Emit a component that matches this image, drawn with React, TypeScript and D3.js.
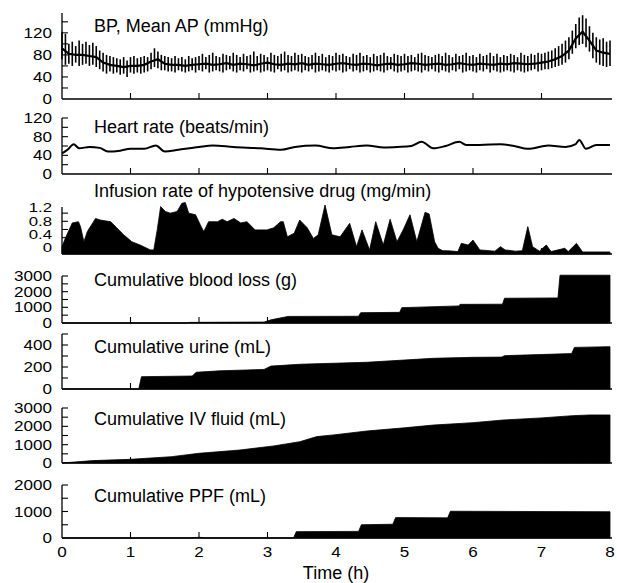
import React from 'react';
import * as d3 from 'd3';

// BP strokes every 0.05 h, mean every 0.1 h
const bpStep = 0.05;
const bpSys = [
  122, 118, 100, 104, 96, 106, 100, 104, 98, 102, 96, 88, 84, 80, 78, 76, 74, 72, 76, 70,
  76, 78, 74, 76, 78, 76, 84, 92, 86, 80, 78, 76, 74, 78, 74, 76, 72, 78, 74, 76,
  78, 82, 76, 80, 84, 78, 76, 82, 80, 78, 84, 80, 76, 82, 78, 80, 86, 78, 82, 80,
  76, 84, 80, 78, 82, 86, 80, 78, 84, 80, 82, 78, 76, 80, 84, 78, 82, 76, 80, 78,
  84, 80, 82, 78, 76, 82, 80, 84, 78, 80, 76, 82, 78, 80, 84, 78, 76, 82, 80, 78,
  82, 78, 80, 76, 82, 84, 80, 78, 76, 80, 82, 78, 84, 80, 76, 82, 78, 80, 84, 78,
  80, 76, 82, 78, 80, 84, 78, 82, 76, 80, 78, 82, 80, 76, 84, 80, 78, 82, 80, 84,
  82, 84, 86, 88, 92, 96, 100, 106, 112, 124, 136, 148, 152, 146, 132, 120, 112, 108, 110, 104,
  106,
];
const bpDia = [
  72, 62, 64, 60, 66, 60, 62, 64, 60, 62, 58, 54, 50, 46, 50, 46, 48, 44, 46, 40,
  48, 46, 48, 46, 48, 50, 54, 58, 56, 52, 52, 50, 50, 48, 52, 50, 48, 50, 52, 48,
  52, 50, 54, 48, 50, 52, 50, 48, 52, 54, 50, 48, 52, 50, 54, 48, 50, 52, 48, 50,
  52, 50, 48, 54, 50, 52, 48, 50, 52, 50, 48, 52, 50, 54, 48, 50, 52, 50, 48, 52,
  50, 52, 48, 50, 54, 50, 52, 48, 50, 52, 48, 50, 52, 50, 48, 52, 54, 50, 48, 50,
  52, 48, 50, 52, 50, 48, 52, 50, 54, 50, 48, 52, 50, 48, 52, 50, 54, 48, 50, 52,
  50, 48, 52, 50, 54, 48, 52, 50, 48, 50, 52, 50, 48, 52, 50, 48, 50, 52, 54, 50,
  52, 54, 54, 56, 58, 60, 62, 66, 72, 82, 92, 98, 100, 94, 86, 74, 66, 62, 60, 58,
  60,
];
const bpMeanStep = 0.1;
const bpMean = [
  92, 82, 80, 80, 78, 76, 66, 62, 60, 58, 60, 60, 62, 68, 72, 64, 62, 62, 60, 62,
  63, 64, 62, 63, 65, 62, 64, 63, 61, 64, 66, 63, 62, 64, 63, 65, 62, 64, 63, 62,
  64, 65, 63, 62, 64, 63, 61, 63, 64, 62, 63, 65, 64, 62, 63, 64, 62, 63, 65, 63,
  62, 64, 63, 62, 64, 63, 65, 64, 63, 64, 66, 68, 72, 78, 88, 110, 122, 106, 88, 84,
  82,
];

const hrTime = [0, 0.08, 0.17, 0.25, 0.4, 0.55, 0.67, 0.85, 1.0, 1.2, 1.37, 1.5, 1.7, 2.0, 2.2, 2.5, 2.9, 3.2, 3.4, 3.7, 3.96, 4.2, 4.45, 4.7, 4.9, 5.1, 5.25, 5.42, 5.6, 5.8, 5.9, 6.1, 6.4, 6.6, 6.8, 7.1, 7.35, 7.5, 7.55, 7.65, 7.8, 8.0];
const hrRate = [44, 52, 64, 55, 58, 56, 48, 50, 54, 54, 61, 48, 52, 58, 61, 58, 55, 52, 58, 61, 55, 58, 61, 57, 58, 60, 69, 55, 60, 69, 62, 62, 64, 60, 54, 61, 58, 64, 73, 54, 62, 62];

const infTime = [
  0, 0.05, 0.15, 0.24, 0.27, 0.32, 0.37, 0.49, 0.56, 0.71, 0.8, 0.9, 1.02, 1.14, 1.29, 1.34, 1.39, 1.44, 1.51, 1.58,
  1.68, 1.75, 1.8, 1.85, 1.95, 2.02, 2.07, 2.14, 2.27, 2.34, 2.41, 2.51, 2.61, 2.7, 2.82, 2.99, 3.09, 3.19, 3.23, 3.29,
  3.39, 3.47, 3.58, 3.67, 3.74, 3.84, 3.94, 4.06, 4.2, 4.3, 4.38, 4.49, 4.58, 4.69, 4.79, 4.89, 4.98, 5.08, 5.18, 5.3,
  5.36, 5.44, 5.49, 5.56, 5.63, 5.78, 5.83, 5.93, 6.0, 6.1, 6.32, 6.4, 6.47, 6.62, 6.72, 6.8, 6.87, 6.97, 7.07, 7.14,
  7.34, 7.39, 7.51, 7.6, 8.0,
];
const infRate = [
  0.18, 0.39, 0.76, 0.79, 0.67, 0.3, 0.55, 0.87, 0.83, 0.79, 0.64, 0.47, 0.3, 0.22, 0.1, 0.1, 0.59, 1.16, 1.04, 1.0,
  1.04, 1.24, 1.26, 1.0, 0.96, 0.71, 0.55, 0.79, 0.79, 0.85, 0.79, 0.87, 0.76, 0.79, 0.59, 0.59, 0.64, 0.79, 0.79, 0.42,
  0.51, 0.83, 0.64, 0.38, 0.47, 1.2, 0.47, 0.42, 0.75, 0.18, 0.59, 0.1, 0.79, 0.22, 0.85, 0.3, 0.59, 0.96, 0.3, 1.02,
  0.98, 0.3, 0.14, 0.08, 0.08, 0.06, 0.26, 0.22, 0.34, 0.1, 0.07, 0.18, 0.1, 0.07, 0.08, 0.67, 0.18, 0.07, 0.22, 0.06,
  0.14, 0.06, 0.26, 0.05, 0.05,
];

const bloodTime = [0, 1.82, 1.88, 2.95, 3.05, 3.3, 4.33, 4.36, 4.93, 4.96, 5.8, 5.81, 6.43, 6.46, 7.24, 7.27, 8.0];
const bloodLoss = [0, 0, 40, 60, 200, 420, 430, 660, 680, 980, 1090, 1190, 1200, 1580, 1600, 3050, 3050];

const urineTime = [0, 1.12, 1.16, 1.9, 1.96, 2.3, 2.95, 3.05, 3.47, 4.45, 5.42, 6.0, 6.42, 6.46, 7.44, 7.48, 8.0];
const urineVol = [0, 0, 112, 118, 152, 165, 178, 208, 225, 243, 279, 288, 290, 303, 322, 378, 385];

const ivTime = [0, 0.45, 1.0, 1.6, 2.0, 2.6, 3.09, 3.47, 3.72, 3.96, 4.45, 5.0, 5.42, 6.0, 6.44, 7.0, 7.45, 7.7, 8.0];
const ivVol = [0, 130, 200, 345, 530, 710, 930, 1160, 1440, 1530, 1745, 1920, 2070, 2200, 2345, 2460, 2580, 2620, 2620];

const ppfTime = [0, 1.9, 2.0, 2.1, 3.38, 3.42, 4.33, 4.37, 4.83, 4.87, 5.63, 5.67, 8.0];
const ppfVol = [0, 0, 30, 0, 0, 240, 250, 500, 520, 770, 760, 1010, 990];

const hours = [0, 1, 2, 3, 4, 5, 6, 7, 8];

const FONT = 'Liberation Sans, Arial, Helvetica, sans-serif';

// panel layout: bottom/top pixel rows, axis top value, tick step, labelled values
const panels = [
  { key: 'bp', title: 'BP, Mean AP (mmHg)', titleY: 32, bottom: 99, top: 13, max: 156, step: 20, labels: [0, 40, 80, 120] },
  { key: 'hr', title: 'Heart rate (beats/min)', titleY: 133, bottom: 174, top: 118, max: 120, step: 20, labels: [0, 40, 80, 120] },
  { key: 'inf', title: 'Infusion rate of hypotensive drug (mg/min)', titleY: 197, bottom: 254, top: 207, max: 1.15, step: 0.2, labels: [0, 0.4, 0.8, 1.2], labelRange: [248, 208], labelSize: 12 },
  { key: 'blood', title: 'Cumulative blood loss (g)', titleY: 286, bottom: 323, top: 276, max: 3000, step: 500, labels: [0, 1000, 2000, 3000] },
  { key: 'urine', title: 'Cumulative urine (mL)', titleY: 353, bottom: 389, top: 334, max: 500, step: 100, labels: [0, 200, 400] },
  { key: 'iv', title: 'Cumulative IV fluid (mL)', titleY: 425, bottom: 463, top: 408, max: 3000, step: 500, labels: [0, 1000, 2000, 3000] },
  { key: 'ppf', title: 'Cumulative PPF (mL)', titleY: 502, bottom: 538, top: 485, max: 2000, step: 500, labels: [0, 1000, 2000] },
];

const x = d3.scaleLinear().domain([0, 8]).range([62, 610]);

const fillSeries: Record<string, [number[], number[]]> = {
  inf: [infTime, infRate],
  blood: [bloodTime, bloodLoss],
  urine: [urineTime, urineVol],
  iv: [ivTime, ivVol],
  ppf: [ppfTime, ppfVol],
};

function StretchText({ x: tx, y: ty, size = 14, sx = 1.22, children }: { x: number; y: number; size?: number; sx?: number; children: React.ReactNode }) {
  return (
    <text
      transform={`translate(${tx},${ty}) scale(${sx},1)`}
      textAnchor="end"
      dy="0.36em"
      fontSize={size}
      fontFamily={FONT}
    >
      {children}
    </text>
  );
}

function Panel({ p }: { p: (typeof panels)[number] }) {
  const y = d3.scaleLinear().domain([0, p.max]).range([p.bottom, p.top]);
  const labelY = p.labelRange
    ? d3.scaleLinear().domain([0, 1.2]).range(p.labelRange)
    : y;
  const ticks = d3.range(p.step, p.max + 1e-9, p.step);

  let marks: React.ReactNode = null;
  if (p.key === 'bp') {
    const mean = d3
      .line<number>()
      .x((_, i) => x(i * bpMeanStep))
      .y((d) => y(d))
      .curve(d3.curveLinear);
    marks = (
      <g>
        {bpSys.map((s, i) => (
          <line key={i} x1={x(i * bpStep)} x2={x(i * bpStep)} y1={y(s)} y2={y(bpDia[i])} stroke="#000" strokeWidth={1.6} />
        ))}
        <path d={mean(bpMean) ?? ''} fill="none" stroke="#000" strokeWidth={2.2} />
      </g>
    );
  } else if (p.key === 'hr') {
    const line = d3
      .line<number>()
      .x((_, i) => x(hrTime[i]))
      .y((d) => y(d))
      .curve(d3.curveMonotoneX);
    marks = <path d={line(hrRate) ?? ''} fill="none" stroke="#000" strokeWidth={2} />;
  } else {
    const [ts, vs] = fillSeries[p.key];
    const area = d3
      .area<number>()
      .x((_, i) => x(ts[i]))
      .y0(y(0))
      .y1((d) => y(d));
    marks = <path d={area(vs) ?? ''} fill="#000" stroke="#000" strokeWidth={0.8} />;
  }

  return (
    <g>
      {/* y axis, ticks pointing inward */}
      <line x1={x(0)} x2={x(0)} y1={y(0)} y2={p.top} stroke="#000" strokeWidth={1.3} />
      {ticks.map((t) => (
        <line key={t} x1={x(0)} x2={x(0) + 6} y1={y(t)} y2={y(t)} stroke="#000" strokeWidth={1.1} />
      ))}
      {p.labels.map((v) => (
        <StretchText key={v} x={52} y={labelY(v)} size={p.labelSize ?? 14} sx={p.labelSize ? 1.4 : 1.22}>
          {v}
        </StretchText>
      ))}
      {/* baseline with hour ticks */}
      <line x1={x(0)} x2={x(8) + 2} y1={y(0)} y2={y(0)} stroke="#000" strokeWidth={1.4} />
      {hours.slice(1, 8).map((h) => (
        <line key={h} x1={x(h)} x2={x(h)} y1={y(0)} y2={y(0) - 6} stroke="#000" strokeWidth={1.1} />
      ))}
      {marks}
      <text x={94} y={p.titleY} fontSize={18} fontFamily={FONT}>
        {p.title}
      </text>
    </g>
  );
}

export default function App() {
  return (
    <svg width={617} height={583} style={{ display: 'block', position: 'absolute', left: 0, top: 0, background: '#fff' }}>
      <rect width={617} height={583} fill="#fff" />
      {panels.map((p) => (
        <Panel key={p.key} p={p} />
      ))}
      {hours.map((h) => (
        <text
          key={h}
          transform={`translate(${x(h)},557) scale(1.22,1)`}
          textAnchor="middle"
          fontSize={14}
          fontFamily={FONT}
        >
          {h}
        </text>
      ))}
      <text x={x(4)} y={579} textAnchor="middle" fontSize={18} fontFamily={FONT}>
        Time (h)
      </text>
    </svg>
  );
}
